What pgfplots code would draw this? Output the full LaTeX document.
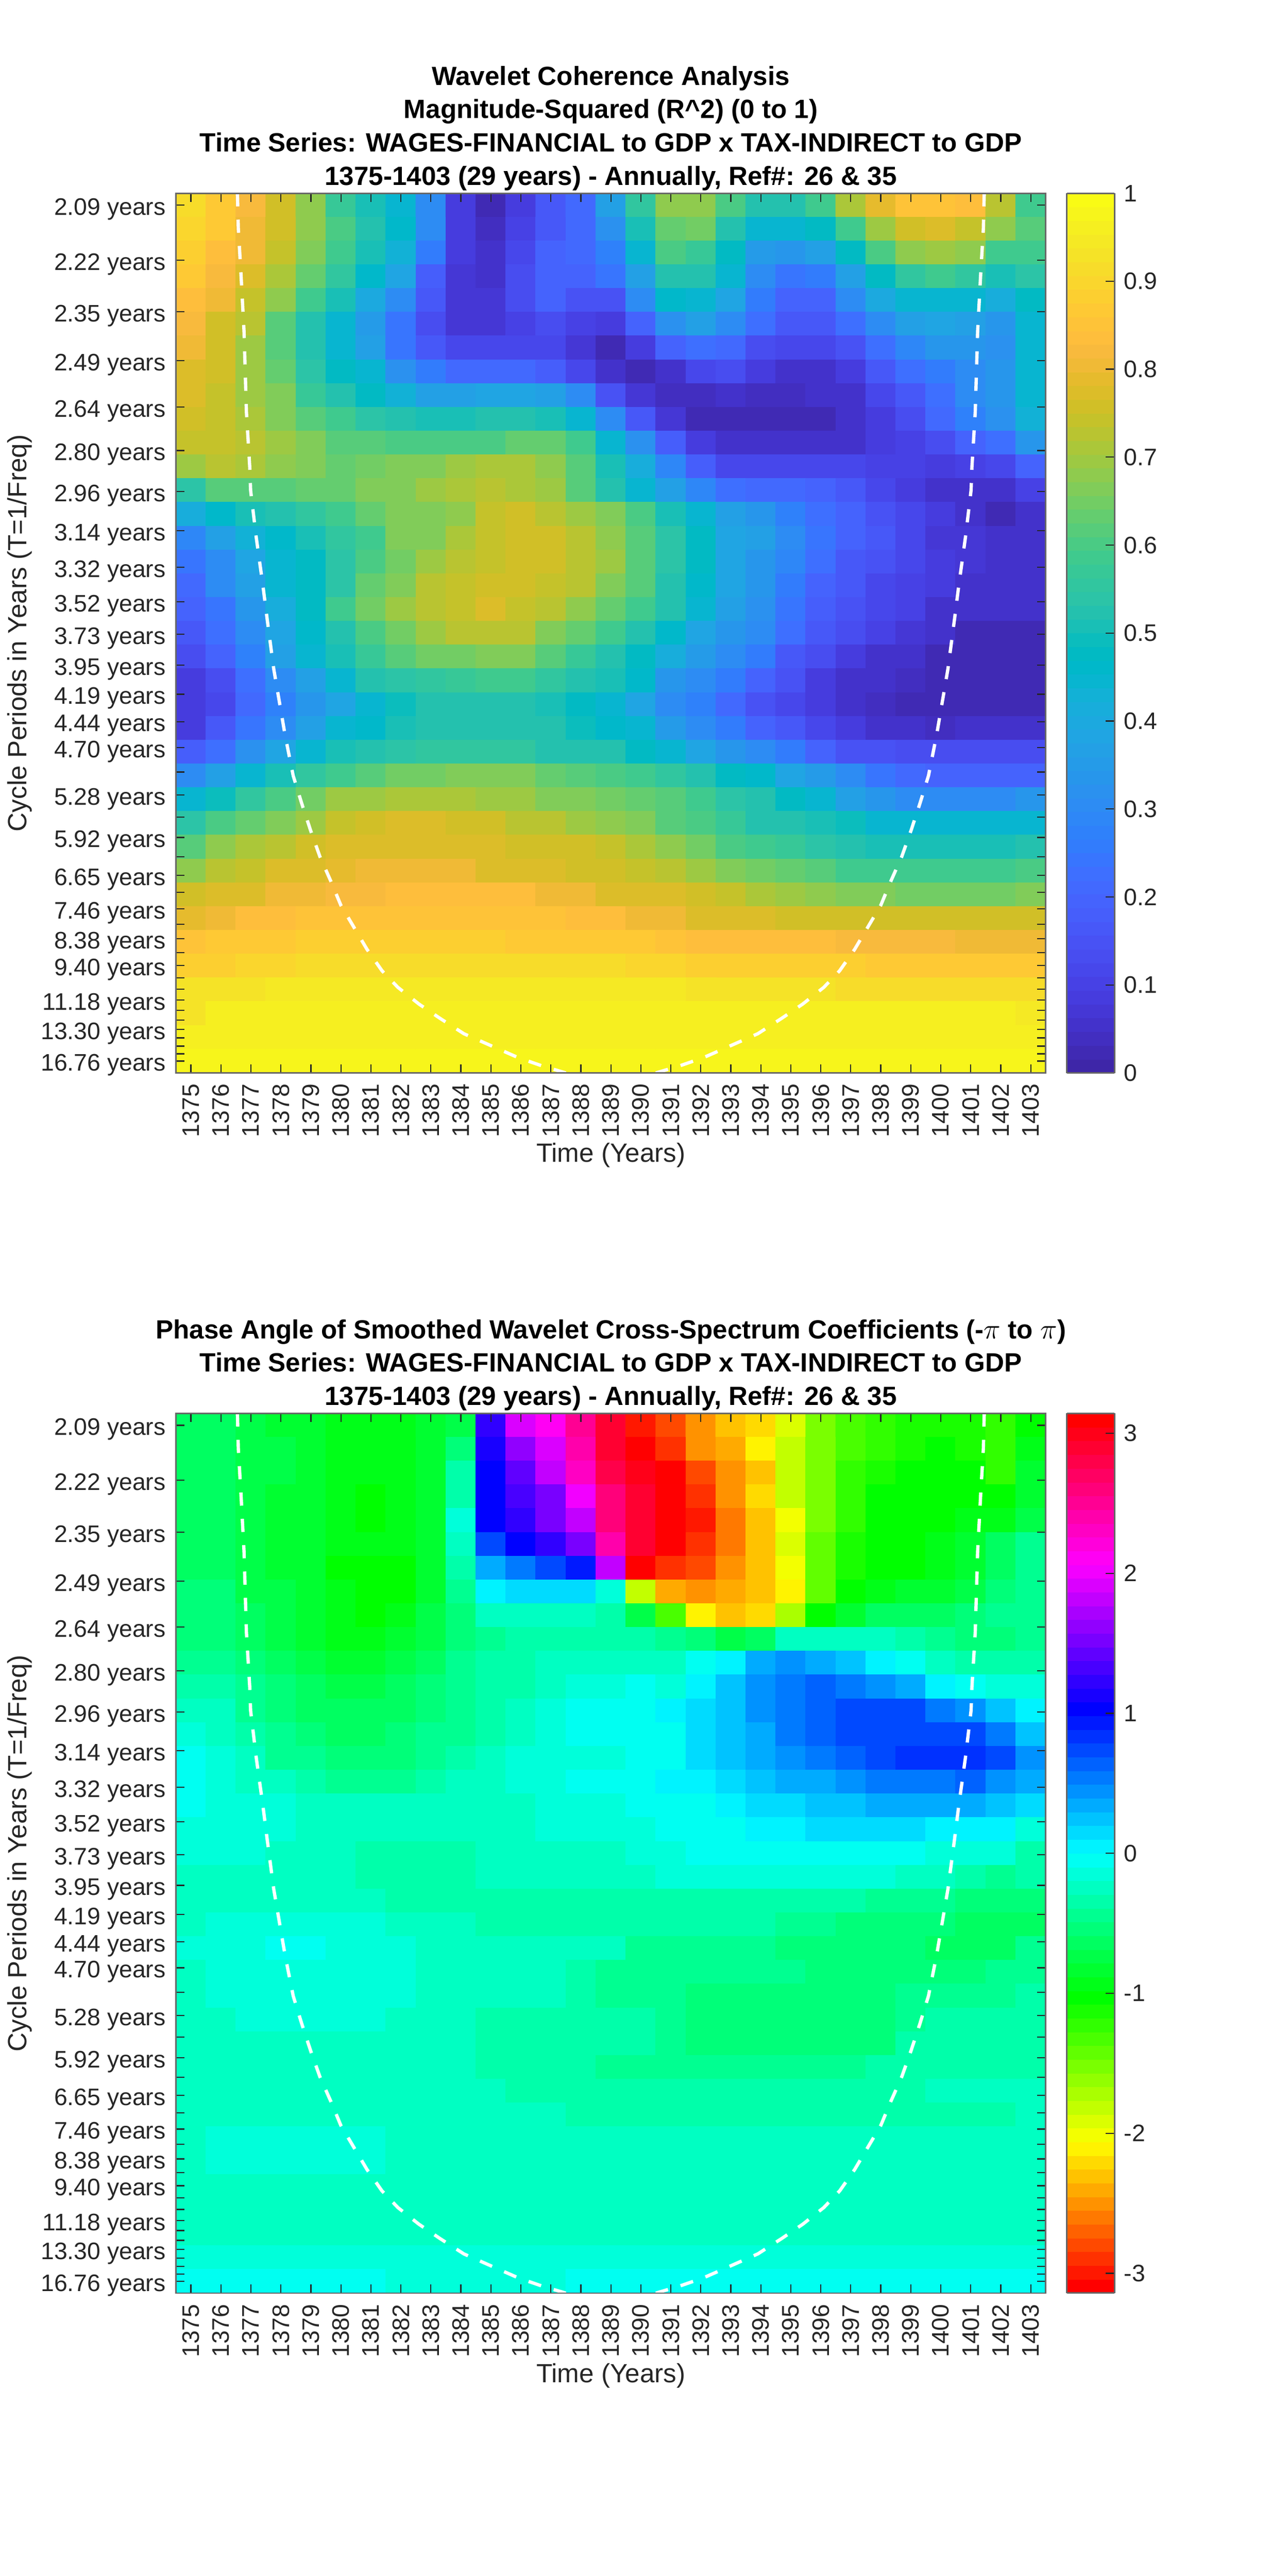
\documentclass[border=0pt]{standalone}
\usepackage{pgfplots}
\usepackage{pgfplotstable}
\usepackage{fontspec}
\setmainfont{Liberation Sans}
\pgfplotsset{compat=1.18}
\definecolor{ax}{gray}{0.15}
\pgfplotsset{
 colormap={parula64}{rgb=(0.2422,0.1504,0.6603) rgb=(0.2504,0.1650,0.7076) rgb=(0.2578,0.1818,0.7511) rgb=(0.2647,0.1978,0.7952) rgb=(0.2706,0.2147,0.8364) rgb=(0.2751,0.2342,0.8710) rgb=(0.2783,0.2559,0.8991) rgb=(0.2803,0.2782,0.9221) rgb=(0.2813,0.3006,0.9414) rgb=(0.2810,0.3228,0.9579) rgb=(0.2795,0.3447,0.9717) rgb=(0.2760,0.3667,0.9829) rgb=(0.2699,0.3892,0.9906) rgb=(0.2602,0.4123,0.9952) rgb=(0.2440,0.4358,0.9988) rgb=(0.2206,0.4603,0.9973) rgb=(0.1963,0.4847,0.9892) rgb=(0.1834,0.5074,0.9798) rgb=(0.1786,0.5289,0.9682) rgb=(0.1764,0.5499,0.9520) rgb=(0.1687,0.5703,0.9359) rgb=(0.1540,0.5902,0.9218) rgb=(0.1460,0.6091,0.9079) rgb=(0.1380,0.6276,0.8973) rgb=(0.1248,0.6459,0.8883) rgb=(0.1113,0.6635,0.8763) rgb=(0.0952,0.6798,0.8598) rgb=(0.0689,0.6948,0.8394) rgb=(0.0297,0.7082,0.8163) rgb=(0.0036,0.7203,0.7917) rgb=(0.0067,0.7312,0.7660) rgb=(0.0433,0.7411,0.7394) rgb=(0.0964,0.7500,0.7120) rgb=(0.1408,0.7584,0.6842) rgb=(0.1717,0.7670,0.6554) rgb=(0.1938,0.7758,0.6251) rgb=(0.2161,0.7843,0.5923) rgb=(0.2470,0.7918,0.5567) rgb=(0.2906,0.7973,0.5188) rgb=(0.3406,0.8008,0.4789) rgb=(0.3909,0.8029,0.4354) rgb=(0.4456,0.8024,0.3909) rgb=(0.5044,0.7993,0.3480) rgb=(0.5616,0.7942,0.3045) rgb=(0.6174,0.7876,0.2612) rgb=(0.6720,0.7793,0.2227) rgb=(0.7242,0.7698,0.1910) rgb=(0.7738,0.7598,0.1646) rgb=(0.8203,0.7498,0.1535) rgb=(0.8634,0.7406,0.1596) rgb=(0.9035,0.7330,0.1774) rgb=(0.9393,0.7288,0.2100) rgb=(0.9728,0.7298,0.2394) rgb=(0.9956,0.7434,0.2371) rgb=(0.9970,0.7659,0.2199) rgb=(0.9952,0.7893,0.2028) rgb=(0.9892,0.8136,0.1885) rgb=(0.9786,0.8386,0.1766) rgb=(0.9676,0.8639,0.1643) rgb=(0.9610,0.8890,0.1537) rgb=(0.9597,0.9135,0.1423) rgb=(0.9628,0.9373,0.1265) rgb=(0.9691,0.9606,0.1064) rgb=(0.9769,0.9839,0.0805)},
 colormap={hsvbase}{rgb=(1,0,0) rgb=(1,1,0) rgb=(0,1,0) rgb=(0,1,1) rgb=(0,0,1) rgb=(1,0,1) rgb=(1,0,0)},
 colormap={hsv64}{samples of colormap=(64 of hsvbase)},
 wave/.style={
  scale only axis, width=527.75pt, height=533.75pt,
  xmin=1374.5, xmax=1403.5, ymin=-0.5, ymax=36.5, y dir=reverse,
  xtick={1375,1376,...,1403},
  ytick={0,2.309,4.489,6.546,8.488,10.321,12.050,13.683,15.225,16.679,18.052,19.348,20.571,21.726,22.816,23.844,24.815,25.732,26.597,27.413,28.184,28.911,29.597,30.245,30.857,31.434,31.980,32.493,32.979,33.437,33.870,34.278,34.663,35.027,35.370,35.694,36},
  yticklabels={2.09 years,2.22 years,2.35 years,2.49 years,2.64 years,2.80 years,2.96 years,3.14 years,3.32 years,3.52 years,3.73 years,3.95 years,4.19 years,4.44 years,4.70 years,,5.28 years,,5.92 years,,6.65 years,,7.46 years,,8.38 years,,9.40 years,,,11.18 years,,,13.30 years,,,,16.76 years},
  tick align=inside, major tick length=5.3pt,
  tick style={color=ax,line width=0.7pt},
  axis line style={color=black!60,line width=0.9pt},
  axis on top,
  /pgf/number format/assume math mode=true,
  /pgf/number format/1000 sep={},
  every tick label/.append style={font=\fontsize{14.5}{16}\selectfont,text=ax},
  yticklabel style={inner sep=0pt,xshift=-6pt,yshift=-2.5pt},
  xticklabel style={rotate=90,anchor=east,inner sep=0pt,xshift=-6.5pt},
  every axis x label/.style={at={(axis description cs:0.5,0)},anchor=center,yshift=-50pt},
  every axis y label/.style={at={(axis description cs:0,0.5)},rotate=90,anchor=center,yshift=94.75pt},
  label style={font=\fontsize{16}{18}\selectfont,text=ax},
  xlabel={Time (Years)}, ylabel={Cycle Periods in Years (T=1/Freq)},
  title style={at={(axis description cs:0.5,1)},anchor=south,align=center,yshift=-4.5pt,inner sep=0pt,
    font=\fontsize{16}{20.2}\selectfont\bfseries,text=black},
  colormap access=piecewise constant,
  colorbar, colorbar sampled,
 },
 cbstyle/.style={
   at={(parent axis.north east)},anchor=north west,xshift=4.25pt,
   scale only axis,width=29pt,height=533.75pt,samples=65,
   tick align=inside, major tick length=5.3pt,
   tick style={color=ax,line width=0.7pt},
   axis line style={color=black!60,line width=0.9pt},
   yticklabel pos=right, ytick pos=right,
   /pgf/number format/assume math mode=true,
   /pgf/number format/fixed,
   yticklabel style={inner sep=0pt,xshift=5.5pt,font=\fontsize{14.5}{16}\selectfont,text=ax},
 },
 coi/.style={white,line width=2pt,dash pattern=on 8pt off 8pt,forget plot,no markers},
}
\pgfplotstableread[row sep=\\]{z\\
.91\\.87\\.82\\.75\\.68\\.57\\.50\\.44\\.30\\.09\\.03\\.09\\.16\\.21\\.36\\.56\\.68\\.68\\.60\\.53\\.53\\.58\\.71\\.79\\.85\\.85\\.83\\.72\\.59\\
.90\\.86\\.81\\.75\\.68\\.60\\.53\\.46\\.30\\.09\\.04\\.10\\.16\\.21\\.32\\.50\\.64\\.65\\.53\\.45\\.44\\.47\\.59\\.70\\.76\\.78\\.74\\.68\\.62\\
.88\\.84\\.80\\.74\\.66\\.58\\.50\\.43\\.26\\.09\\.05\\.12\\.19\\.21\\.28\\.45\\.60\\.57\\.48\\.35\\.33\\.37\\.47\\.60\\.68\\.70\\.68\\.58\\.58\\
.87\\.82\\.77\\.71\\.63\\.55\\.46\\.38\\.18\\.07\\.06\\.13\\.20\\.20\\.24\\.37\\.53\\.53\\.45\\.30\\.24\\.26\\.37\\.47\\.55\\.58\\.55\\.50\\.54\\
.84\\.80\\.74\\.68\\.58\\.50\\.40\\.30\\.16\\.07\\.07\\.13\\.19\\.15\\.15\\.30\\.46\\.45\\.38\\.25\\.20\\.20\\.30\\.40\\.45\\.45\\.44\\.42\\.48\\
.82\\.76\\.72\\.62\\.52\\.44\\.35\\.24\\.14\\.07\\.07\\.10\\.13\\.10\\.08\\.19\\.32\\.36\\.30\\.22\\.17\\.17\\.23\\.30\\.37\\.38\\.36\\.33\\.44\\
.80\\.76\\.70\\.62\\.52\\.44\\.36\\.24\\.16\\.11\\.11\\.12\\.12\\.07\\.03\\.08\\.20\\.22\\.21\\.14\\.11\\.11\\.15\\.22\\.29\\.33\\.33\\.32\\.44\\
.78\\.76\\.70\\.64\\.54\\.48\\.44\\.32\\.26\\.21\\.21\\.21\\.18\\.12\\.05\\.03\\.06\\.12\\.14\\.09\\.06\\.06\\.09\\.16\\.22\\.26\\.30\\.33\\.44\\
.78\\.74\\.70\\.66\\.57\\.52\\.47\\.43\\.37\\.36\\.38\\.38\\.36\\.31\\.15\\.07\\.04\\.04\\.05\\.04\\.04\\.05\\.06\\.11\\.17\\.23\\.30\\.34\\.44\\
.76\\.74\\.71\\.67\\.61\\.58\\.54\\.52\\.51\\.51\\.52\\.53\\.51\\.44\\.30\\.16\\.07\\.03\\.02\\.02\\.02\\.03\\.06\\.09\\.13\\.21\\.28\\.32\\.43\\
.74\\.74\\.73\\.69\\.67\\.62\\.62\\.60\\.60\\.60\\.60\\.63\\.63\\.58\\.44\\.32\\.18\\.09\\.05\\.05\\.05\\.06\\.06\\.08\\.10\\.13\\.20\\.22\\.33\\
.69\\.72\\.71\\.68\\.67\\.64\\.65\\.66\\.66\\.69\\.71\\.71\\.68\\.62\\.51\\.42\\.29\\.18\\.12\\.12\\.12\\.12\\.11\\.10\\.10\\.08\\.10\\.12\\.20\\
.54\\.61\\.62\\.62\\.63\\.64\\.66\\.67\\.69\\.71\\.73\\.71\\.69\\.62\\.52\\.44\\.37\\.29\\.23\\.21\\.21\\.19\\.16\\.12\\.08\\.06\\.06\\.06\\.10\\
.41\\.46\\.51\\.53\\.55\\.59\\.63\\.66\\.67\\.68\\.74\\.75\\.72\\.70\\.67\\.60\\.50\\.44\\.37\\.33\\.28\\.22\\.19\\.15\\.11\\.09\\.05\\.03\\.05\\
.29\\.36\\.43\\.46\\.50\\.55\\.59\\.66\\.67\\.71\\.74\\.75\\.75\\.73\\.68\\.62\\.54\\.48\\.39\\.36\\.30\\.24\\.19\\.16\\.12\\.07\\.07\\.06\\.06\\
.24\\.31\\.39\\.44\\.48\\.54\\.60\\.65\\.69\\.72\\.74\\.76\\.76\\.73\\.69\\.62\\.54\\.47\\.39\\.34\\.29\\.22\\.17\\.15\\.12\\.08\\.07\\.06\\.06\\
.21\\.30\\.36\\.44\\.48\\.54\\.63\\.67\\.73\\.74\\.76\\.76\\.74\\.72\\.67\\.62\\.52\\.46\\.39\\.34\\.25\\.20\\.16\\.12\\.10\\.08\\.06\\.06\\.06\\
.19\\.24\\.34\\.41\\.47\\.58\\.65\\.69\\.72\\.74\\.77\\.74\\.73\\.68\\.64\\.58\\.52\\.44\\.37\\.32\\.24\\.18\\.15\\.12\\.10\\.06\\.06\\.06\\.06\\
.16\\.23\\.31\\.38\\.46\\.53\\.60\\.65\\.69\\.72\\.72\\.72\\.67\\.64\\.58\\.53\\.46\\.39\\.33\\.30\\.23\\.17\\.13\\.10\\.07\\.06\\.03\\.03\\.03\\
.13\\.20\\.28\\.36\\.44\\.51\\.57\\.62\\.65\\.65\\.66\\.66\\.61\\.57\\.52\\.48\\.42\\.35\\.30\\.25\\.17\\.13\\.09\\.06\\.05\\.03\\.02\\.02\\.02\\
.08\\.13\\.23\\.30\\.36\\.45\\.52\\.54\\.55\\.57\\.58\\.58\\.56\\.52\\.50\\.46\\.33\\.30\\.26\\.19\\.15\\.08\\.05\\.05\\.04\\.02\\.02\\.02\\.02\\
.08\\.12\\.21\\.28\\.33\\.38\\.45\\.49\\.52\\.53\\.52\\.52\\.50\\.47\\.44\\.39\\.30\\.27\\.21\\.15\\.11\\.08\\.05\\.04\\.03\\.02\\.03\\.02\\.02\\
.09\\.16\\.24\\.31\\.37\\.45\\.46\\.50\\.52\\.52\\.52\\.52\\.52\\.49\\.46\\.44\\.35\\.30\\.25\\.19\\.16\\.11\\.09\\.06\\.05\\.04\\.05\\.05\\.05\\
.18\\.23\\.32\\.38\\.45\\.51\\.53\\.54\\.56\\.56\\.56\\.56\\.53\\.53\\.53\\.48\\.45\\.39\\.34\\.31\\.25\\.19\\.15\\.15\\.14\\.14\\.14\\.14\\.14\\
.30\\.36\\.44\\.50\\.55\\.59\\.62\\.65\\.65\\.66\\.66\\.66\\.63\\.61\\.60\\.58\\.56\\.53\\.48\\.46\\.38\\.35\\.30\\.24\\.21\\.20\\.19\\.19\\.19\\
.44\\.49\\.56\\.60\\.65\\.69\\.70\\.71\\.71\\.71\\.69\\.69\\.67\\.66\\.65\\.64\\.61\\.58\\.54\\.52\\.48\\.44\\.37\\.33\\.31\\.31\\.31\\.31\\.34\\
.54\\.60\\.64\\.66\\.70\\.74\\.76\\.77\\.77\\.75\\.75\\.72\\.72\\.70\\.68\\.66\\.62\\.60\\.57\\.52\\.52\\.51\\.49\\.45\\.45\\.44\\.44\\.44\\.44\\
.62\\.68\\.71\\.73\\.76\\.78\\.78\\.78\\.78\\.78\\.78\\.76\\.76\\.75\\.74\\.71\\.68\\.65\\.60\\.59\\.57\\.54\\.52\\.50\\.50\\.50\\.50\\.50\\.52\\
.68\\.72\\.74\\.77\\.78\\.79\\.80\\.81\\.81\\.81\\.77\\.77\\.77\\.76\\.75\\.74\\.72\\.70\\.66\\.65\\.63\\.61\\.58\\.58\\.58\\.58\\.58\\.58\\.60\\
.76\\.77\\.78\\.80\\.80\\.82\\.82\\.83\\.83\\.83\\.83\\.83\\.81\\.81\\.78\\.77\\.77\\.75\\.74\\.71\\.69\\.68\\.67\\.66\\.65\\.65\\.65\\.65\\.67\\
.79\\.81\\.84\\.84\\.85\\.85\\.85\\.85\\.85\\.85\\.85\\.85\\.85\\.83\\.83\\.81\\.80\\.78\\.78\\.78\\.76\\.76\\.75\\.75\\.75\\.75\\.75\\.75\\.75\\
.85\\.87\\.87\\.87\\.88\\.88\\.88\\.88\\.88\\.88\\.88\\.87\\.87\\.87\\.86\\.86\\.85\\.84\\.84\\.83\\.83\\.83\\.82\\.82\\.82\\.82\\.81\\.81\\.81\\
.89\\.89\\.90\\.90\\.91\\.91\\.91\\.91\\.91\\.91\\.91\\.91\\.91\\.91\\.91\\.90\\.90\\.89\\.89\\.89\\.88\\.88\\.88\\.87\\.87\\.87\\.87\\.87\\.87\\
.93\\.93\\.93\\.94\\.94\\.94\\.94\\.94\\.94\\.94\\.94\\.94\\.94\\.94\\.94\\.94\\.94\\.93\\.93\\.93\\.93\\.93\\.92\\.92\\.92\\.92\\.92\\.92\\.92\\
.93\\.96\\.96\\.96\\.96\\.96\\.96\\.96\\.96\\.96\\.96\\.96\\.96\\.96\\.96\\.96\\.96\\.96\\.96\\.96\\.96\\.96\\.96\\.96\\.96\\.96\\.96\\.96\\.94\\
.96\\.96\\.96\\.96\\.96\\.96\\.96\\.96\\.96\\.96\\.96\\.96\\.96\\.96\\.96\\.96\\.96\\.96\\.96\\.96\\.96\\.96\\.96\\.96\\.96\\.96\\.96\\.96\\.96\\
.97\\.97\\.97\\.97\\.97\\.97\\.97\\.97\\.97\\.97\\.97\\.97\\.97\\.97\\.98\\.98\\.98\\.98\\.98\\.98\\.98\\.98\\.98\\.98\\.98\\.98\\.98\\.98\\.97\\
}\tabA
\pgfplotstableread[row sep=\\]{z\\
-.62\\-.65\\-.75\\-.8\\-.85\\-.93\\-.95\\-.92\\-.88\\-.72\\1.2\\1.95\\2.15\\2.5\\2.85\\-3.0\\-2.75\\-2.55\\-2.32\\-2.2\\-1.9\\-1.55\\-1.3\\-1.2\\-1.1\\-1.1\\-1.15\\-1.25\\-1.0\\
-.6\\-.62\\-.72\\-.78\\-.85\\-.95\\-.95\\-.9\\-.85\\-.55\\1.08\\1.6\\1.95\\2.4\\2.85\\3.13\\-2.85\\-2.55\\-2.4\\-2.15\\-1.85\\-1.55\\-1.35\\-1.2\\-1.1\\-1.05\\-1.1\\-1.2\\-.9\\
-.6\\-.62\\-.72\\-.78\\-.85\\-.95\\-.97\\-.9\\-.85\\-.38\\1.05\\1.45\\1.8\\2.35\\2.8\\3.0\\-3.05\\-2.75\\-2.5\\-2.3\\-1.85\\-1.55\\-1.2\\-1.1\\-1.05\\-1.05\\-1.05\\-1.2\\-.85\\
-.6\\-.62\\-.72\\-.8\\-.88\\-.97\\-1.0\\-.92\\-.85\\-.32\\1.05\\1.3\\1.55\\2.05\\2.6\\2.85\\3.05\\-2.9\\-2.55\\-2.25\\-1.85\\-1.5\\-1.2\\-1.05\\-1.05\\-1.0\\-1.0\\-1.05\\-.85\\
-.6\\-.62\\-.72\\-.8\\-.88\\-.98\\-1.0\\-.92\\-.82\\-.15\\1.0\\1.25\\1.5\\1.85\\2.6\\2.85\\3.05\\-2.95\\-2.6\\-2.35\\-2.05\\-1.5\\-1.2\\-1.05\\-1.05\\-1.0\\-.98\\-.95\\-.75\\
-.6\\-.62\\-.72\\-.8\\-.88\\-.95\\-.98\\-.9\\-.8\\-.25\\.75\\1.05\\1.25\\1.55\\2.45\\2.85\\3.05\\-2.85\\-2.6\\-2.35\\-1.9\\-1.45\\-1.15\\-1.0\\-1.0\\-.95\\-.85\\-.65\\-.45\\
-.6\\-.62\\-.72\\-.8\\-.85\\-1.0\\-1.05\\-1.05\\-.85\\-.3\\.3\\.52\\.75\\.9\\1.8\\-3.05\\-2.9\\-2.75\\-2.55\\-2.35\\-2.05\\-1.4\\-1.15\\-1.05\\-1.0\\-.9\\-.8\\-.6\\-.45\\
-.52\\-.58\\-.7\\-.78\\-.85\\-.95\\-1.05\\-1.05\\-.85\\-.42\\.05\\.12\\.12\\.12\\-.15\\-1.8\\-2.45\\-2.55\\-2.45\\-2.35\\-2.08\\-1.4\\-1.05\\-.95\\-.88\\-.8\\-.75\\-.55\\-.4\\
-.5\\-.52\\-.65\\-.72\\-.8\\-.92\\-1.02\\-.92\\-.75\\-.5\\-.22\\-.2\\-.2\\-.2\\-.3\\-.72\\-1.3\\-2.1\\-2.3\\-2.2\\-1.75\\-1.05\\-.8\\-.65\\-.62\\-.6\\-.55\\-.45\\-.4\\
-.5\\-.52\\-.65\\-.72\\-.82\\-.9\\-.92\\-.85\\-.7\\-.5\\-.4\\-.35\\-.35\\-.35\\-.35\\-.35\\-.4\\-.55\\-.75\\-.65\\-.25\\-.25\\-.22\\-.22\\-.3\\-.4\\-.5\\-.5\\-.42\\
-.42\\-.45\\-.55\\-.65\\-.75\\-.82\\-.85\\-.78\\-.62\\-.45\\-.38\\-.33\\-.28\\-.2\\-.2\\-.2\\-.2\\-.08\\.05\\.3\\.42\\.35\\.2\\.03\\-.05\\-.2\\-.35\\-.35\\-.35\\
-.32\\-.38\\-.45\\-.55\\-.62\\-.72\\-.75\\-.68\\-.55\\-.42\\-.32\\-.3\\-.25\\-.18\\-.15\\-.08\\-.1\\0\\.2\\.45\\.55\\.65\\.55\\.4\\.3\\.08\\-.02\\-.15\\-.18\\
-.22\\-.28\\-.42\\-.5\\-.62\\-.65\\-.68\\-.65\\-.5\\-.4\\-.3\\-.25\\-.12\\-.08\\-.08\\-.03\\0\\.13\\.22\\.42\\.55\\.62\\.72\\.72\\.7\\.58\\.45\\.2\\.02\\
-.18\\-.25\\-.35\\-.45\\-.55\\-.62\\-.62\\-.58\\-.48\\-.42\\-.3\\-.25\\-.15\\-.08\\-.08\\-.05\\-.02\\.13\\.22\\.32\\.55\\.65\\.75\\.78\\.78\\.78\\.7\\.5\\.28\\
-.08\\-.17\\-.28\\-.42\\-.48\\-.52\\-.52\\-.5\\-.45\\-.38\\-.28\\-.18\\-.12\\-.1\\-.1\\-.05\\-.02\\.1\\.2\\.3\\.42\\.55\\.68\\.7\\.8\\.85\\.8\\.78\\.45\\
-.05\\-.12\\-.22\\-.25\\-.3\\-.42\\-.42\\-.4\\-.3\\-.25\\-.2\\-.15\\-.12\\-.08\\-.08\\-.02\\0\\0\\.13\\.27\\.32\\.33\\.45\\.58\\.58\\.58\\.6\\.45\\.3\\
-.05\\-.1\\-.15\\-.18\\-.22\\-.28\\-.28\\-.27\\-.27\\-.25\\-.22\\-.2\\-.15\\-.1\\-.12\\-.05\\-.02\\-.02\\0\\.18\\.18\\.28\\.28\\.35\\.35\\.35\\.38\\.22\\.1\\
-.1\\-.12\\-.15\\-.15\\-.22\\-.25\\-.25\\-.25\\-.25\\-.23\\-.2\\-.2\\-.18\\-.13\\-.12\\-.1\\-.05\\-.05\\-.02\\0\\.02\\.1\\.1\\.1\\.1\\.08\\.02\\.02\\-.1\\
-.18\\-.18\\-.18\\-.2\\-.22\\-.25\\-.3\\-.32\\-.32\\-.32\\-.28\\-.25\\-.25\\-.25\\-.25\\-.15\\-.15\\-.04\\-.04\\-.04\\-.04\\-.04\\-.04\\-.04\\-.04\\-.15\\-.15\\-.15\\-.3\\
-.22\\-.22\\-.22\\-.22\\-.28\\-.28\\-.3\\-.3\\-.3\\-.3\\-.27\\-.27\\-.27\\-.25\\-.25\\-.25\\-.13\\-.13\\-.13\\-.13\\-.13\\-.13\\-.13\\-.13\\-.22\\-.27\\-.3\\-.42\\-.33\\
-.22\\-.22\\-.22\\-.2\\-.2\\-.2\\-.2\\-.32\\-.35\\-.35\\-.35\\-.35\\-.35\\-.35\\-.35\\-.35\\-.35\\-.35\\-.32\\-.32\\-.32\\-.32\\-.32\\-.4\\-.42\\-.48\\-.5\\-.58\\-.5\\
-.25\\-.12\\-.12\\-.12\\-.12\\-.12\\-.12\\-.22\\-.22\\-.22\\-.3\\-.3\\-.3\\-.3\\-.35\\-.35\\-.35\\-.35\\-.35\\-.35\\-.42\\-.42\\-.5\\-.5\\-.55\\-.58\\-.62\\-.68\\-.6\\
-.13\\-.13\\-.13\\-.03\\-.03\\-.12\\-.12\\-.12\\-.2\\-.2\\-.2\\-.28\\-.28\\-.28\\-.28\\-.42\\-.42\\-.42\\-.42\\-.42\\-.5\\-.5\\-.5\\-.55\\-.55\\-.62\\-.62\\-.6\\-.48\\
-.2\\-.13\\-.13\\-.13\\-.1\\-.1\\-.1\\-.12\\-.2\\-.2\\-.25\\-.28\\-.28\\-.3\\-.4\\-.4\\-.4\\-.45\\-.48\\-.48\\-.48\\-.5\\-.52\\-.52\\-.52\\-.52\\-.5\\-.45\\-.4\\
-.2\\-.13\\-.13\\-.13\\-.1\\-.1\\-.1\\-.12\\-.2\\-.2\\-.25\\-.25\\-.28\\-.35\\-.4\\-.4\\-.48\\-.5\\-.5\\-.5\\-.5\\-.5\\-.5\\-.5\\-.48\\-.45\\-.42\\-.42\\-.32\\
-.22\\-.22\\-.12\\-.12\\-.12\\-.12\\-.12\\-.2\\-.2\\-.2\\-.32\\-.32\\-.32\\-.38\\-.38\\-.38\\-.48\\-.52\\-.52\\-.52\\-.52\\-.52\\-.52\\-.52\\-.48\\-.38\\-.38\\-.38\\-.3\\
-.22\\-.22\\-.22\\-.22\\-.22\\-.22\\-.22\\-.22\\-.22\\-.22\\-.3\\-.3\\-.3\\-.3\\-.38\\-.38\\-.42\\-.5\\-.5\\-.5\\-.5\\-.5\\-.5\\-.5\\-.38\\-.38\\-.38\\-.38\\-.3\\
-.25\\-.25\\-.25\\-.25\\-.25\\-.25\\-.25\\-.25\\-.25\\-.25\\-.3\\-.3\\-.3\\-.3\\-.4\\-.4\\-.4\\-.4\\-.4\\-.4\\-.4\\-.4\\-.4\\-.38\\-.38\\-.38\\-.38\\-.3\\-.3\\
-.25\\-.25\\-.25\\-.25\\-.25\\-.25\\-.25\\-.25\\-.25\\-.25\\-.25\\-.3\\-.3\\-.3\\-.3\\-.3\\-.38\\-.38\\-.38\\-.38\\-.38\\-.38\\-.38\\-.38\\-.38\\-.28\\-.28\\-.28\\-.28\\
-.2\\-.2\\-.2\\-.2\\-.2\\-.2\\-.2\\-.2\\-.2\\-.2\\-.2\\-.2\\-.2\\-.3\\-.3\\-.3\\-.3\\-.3\\-.3\\-.3\\-.3\\-.3\\-.3\\-.3\\-.3\\-.3\\-.3\\-.3\\-.2\\
-.2\\-.12\\-.12\\-.12\\-.12\\-.12\\-.12\\-.2\\-.2\\-.2\\-.2\\-.2\\-.2\\-.2\\-.2\\-.2\\-.27\\-.27\\-.27\\-.27\\-.27\\-.27\\-.27\\-.27\\-.2\\-.2\\-.2\\-.2\\-.2\\
-.2\\-.12\\-.12\\-.12\\-.12\\-.12\\-.12\\-.2\\-.2\\-.2\\-.2\\-.2\\-.2\\-.2\\-.2\\-.2\\-.2\\-.2\\-.2\\-.2\\-.2\\-.2\\-.2\\-.2\\-.2\\-.2\\-.2\\-.2\\-.2\\
-.2\\-.2\\-.2\\-.2\\-.2\\-.2\\-.2\\-.2\\-.2\\-.2\\-.2\\-.2\\-.2\\-.2\\-.2\\-.2\\-.2\\-.2\\-.2\\-.2\\-.2\\-.2\\-.2\\-.2\\-.2\\-.2\\-.2\\-.2\\-.2\\
-.2\\-.2\\-.2\\-.2\\-.2\\-.2\\-.2\\-.2\\-.2\\-.2\\-.2\\-.2\\-.2\\-.2\\-.2\\-.2\\-.2\\-.2\\-.2\\-.2\\-.2\\-.2\\-.2\\-.2\\-.2\\-.2\\-.2\\-.2\\-.2\\
-.2\\-.2\\-.2\\-.2\\-.2\\-.2\\-.2\\-.2\\-.2\\-.2\\-.2\\-.2\\-.2\\-.2\\-.2\\-.2\\-.2\\-.2\\-.2\\-.2\\-.2\\-.2\\-.2\\-.2\\-.2\\-.2\\-.2\\-.2\\-.2\\
-.1\\-.1\\-.17\\-.17\\-.17\\-.17\\-.17\\-.17\\-.17\\-.17\\-.17\\-.17\\-.17\\-.17\\-.17\\-.17\\-.17\\-.17\\-.17\\-.17\\-.17\\-.17\\-.1\\-.1\\-.1\\-.1\\-.1\\-.1\\-.1\\
-.08\\-.08\\-.08\\-.08\\-.08\\-.08\\-.08\\-.15\\-.15\\-.15\\-.15\\-.15\\-.15\\-.08\\-.08\\-.08\\-.08\\-.08\\-.08\\-.08\\-.08\\-.08\\-.08\\-.08\\-.08\\-.08\\-.08\\-.08\\-.08\\
}\tabB
\pgfplotstableread{
x y
1376.55 -0.5
1376.58 1.0
1376.66 2.7
1376.77 5.3
1376.85 8.7
1376.96 11.0
1376.99 12.0
1377.18 14.0
1377.40 16.0
1377.54 17.4
1377.76 19.5
1377.95 20.9
1378.14 22.3
1378.41 24.0
1378.69 25.15
1378.99 26.3
1379.30 27.4
1379.67 28.45
1380.00 29.45
1380.40 30.3
1380.87 31.3
1381.37 32.2
1381.90 32.9
1382.60 33.6
1383.30 34.2
1384.10 34.85
1385.00 35.35
1385.90 35.85
1386.70 36.2
1387.50 36.5
}\coiL
\pgfplotstableread{
x y
1401.45 -0.5
1401.42 1.0
1401.34 2.7
1401.23 5.3
1401.15 8.7
1401.04 11.0
1401.01 12.0
1400.82 14.0
1400.60 16.0
1400.46 17.4
1400.24 19.5
1400.05 20.9
1399.86 22.3
1399.59 24.0
1399.31 25.15
1399.01 26.3
1398.70 27.4
1398.33 28.45
1398.00 29.45
1397.60 30.3
1397.13 31.3
1396.63 32.2
1396.10 32.9
1395.40 33.6
1394.70 34.2
1393.90 34.85
1393.00 35.35
1392.10 35.85
1391.30 36.2
1390.50 36.5
}\coiR
\begin{document}
\begin{tikzpicture}
\useasboundingbox (0pt,0pt) rectangle (781.25pt,-1563pt);
\begin{axis}[wave,at={(106.75pt,-117.25pt)},anchor=north west,
 colormap name=parula64, point meta min=0, point meta max=1,
 colorbar style={cbstyle,ytick={0,0.1,...,1},
   yticklabels={0,0.1,0.2,0.3,0.4,0.5,0.6,0.7,0.8,0.9,1}},
 title={Wavelet Coherence Analysis\\Magnitude-Squared (R\textasciicircum 2) (0 to 1)\\Time Series: WAGES-FINANCIAL to GDP x TAX-INDIRECT to GDP\\1375-1403 (29 years) - Annually, Ref\#: 26 \& 35}]
\addplot[matrix plot*,mesh/cols=29,point meta=explicit] table[x index=0,y index=0,x expr={1375+mod(\coordindex,29)},y expr={floor((\coordindex+0.5)/29)},meta=z]{\tabA};
\addplot[coi] table[x=x,y=y]{\coiL};
\addplot[coi] table[x=x,y=y]{\coiR};
\end{axis}
\begin{axis}[wave,at={(106.75pt,-857.6pt)},anchor=north west,
 colormap name=hsv64, point meta min=-3.14159, point meta max=3.14159,
 colorbar style={cbstyle,ytick={-3,-2,-1,0,1,2,3}},
 title={Phase Angle of Smoothed Wavelet Cross-Spectrum Coefficients (-$\pi$ to $\pi$)\\Time Series: WAGES-FINANCIAL to GDP x TAX-INDIRECT to GDP\\1375-1403 (29 years) - Annually, Ref\#: 26 \& 35}]
\addplot[matrix plot*,mesh/cols=29,point meta=explicit] table[x index=0,y index=0,x expr={1375+mod(\coordindex,29)},y expr={floor((\coordindex+0.5)/29)},meta=z]{\tabB};
\addplot[coi] table[x=x,y=y]{\coiL};
\addplot[coi] table[x=x,y=y]{\coiR};
\end{axis}
\end{tikzpicture}
\end{document}
